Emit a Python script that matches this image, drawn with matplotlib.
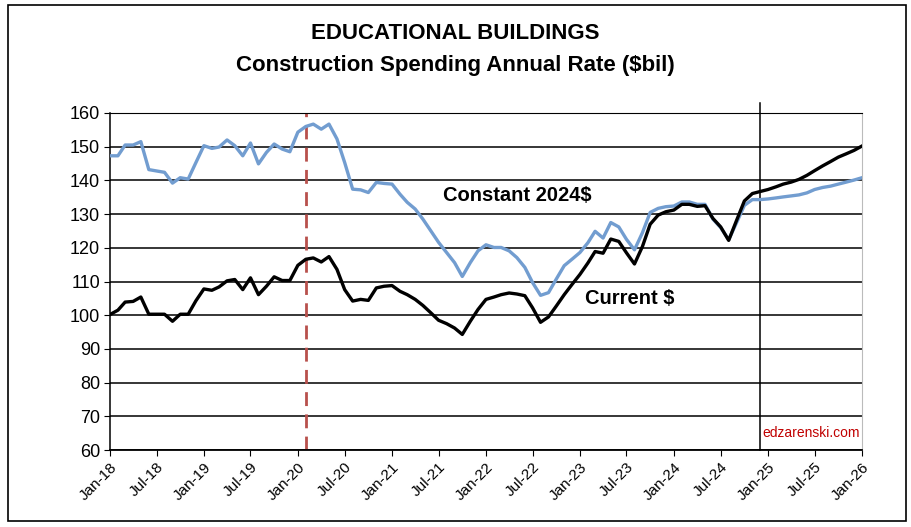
import matplotlib
matplotlib.use("Agg")
import matplotlib.pyplot as plt
import matplotlib.dates as mdates
from matplotlib.patches import Rectangle
import pandas as pd

plt.rcParams['font.family'] = ['Liberation Sans', 'DejaVu Sans']

# monthly series, Jan-2018 .. Jan-2026 ($bil, seasonally adjusted annual rate)
months = pd.date_range("2018-01-01", "2026-01-01", freq="MS")

constant_2024 = [
    147.3, 147.3, 150.5, 150.5, 151.5, 143.2, 142.8, 142.4, 139.2, 140.8, 140.4, 145.3,
    150.3, 149.5, 149.9, 152.0, 150.3, 147.3, 151.1, 144.9, 148.3, 150.8, 149.3, 148.5,
    154.3, 156.0, 156.7, 155.2, 156.7, 152.3, 145.3, 137.4, 137.2, 136.4, 139.4, 139.1,
    138.9, 135.9, 133.5, 131.5, 128.5, 125.0, 121.6, 118.6, 115.6, 111.5, 115.6, 119.1,
    120.9, 120.1, 120.1, 119.1, 117.1, 114.2, 109.7, 105.9, 106.7, 110.7, 114.7, 116.6,
    118.6, 121.5, 124.9, 122.9, 127.5, 126.2, 122.5, 119.4, 124.5, 130.5, 131.7, 132.2,
    132.4, 133.6, 133.6, 132.9, 132.9, 128.5, 126.0, 122.4, 127.5, 132.6, 134.3, 134.3,
    134.5, 134.8, 135.1, 135.4, 135.7, 136.3, 137.3, 137.9, 138.3, 138.9, 139.5, 140.1,
    140.8,
]

current = [
    100.2, 101.5, 103.9, 104.1, 105.4, 100.3, 100.3, 100.3, 98.2, 100.3, 100.3, 104.3,
    107.8, 107.4, 108.4, 110.2, 110.6, 107.6, 111.1, 106.1, 108.6, 111.4, 110.3, 110.3,
    114.8, 116.6, 117.0, 115.8, 117.4, 113.6, 107.6, 104.2, 104.7, 104.4, 108.1, 108.6,
    108.8, 107.1, 106.1, 104.7, 102.9, 100.7, 98.5, 97.5, 96.2, 94.3, 98.2, 101.7,
    104.7, 105.4, 106.1, 106.6, 106.3, 105.8, 102.2, 97.9, 99.5, 102.7, 106.1, 109.1,
    112.1, 115.5, 118.9, 118.4, 122.6, 121.9, 118.5, 115.2, 120.4, 127.0, 129.7, 130.7,
    131.2, 132.9, 132.9, 132.3, 132.5, 128.7, 126.2, 122.2, 128.2, 133.9, 136.1, 136.7,
    137.3, 138.1, 138.9, 139.5, 140.3, 141.5, 142.9, 144.3, 145.6, 146.9, 147.9, 148.9,
    150.2,
]

covid_start = pd.Timestamp("2020-02-01")
forecast_start = pd.Timestamp("2024-12-01")

fig = plt.figure(figsize=(9.11, 5.27), dpi=100)
ax = fig.add_axes([0.1207, 0.146, 0.8255, 0.6396])

ax.plot(months, constant_2024, color="#729dd0", lw=2.4, zorder=3)
ax.plot(months, current, color="black", lw=2.4, zorder=4)

ax.axvline(covid_start, color="#b8504c", lw=2, ls=(0, (5, 3)), zorder=2)
ax.plot([forecast_start, forecast_start], [60, 163], color="black", lw=1.1,
        clip_on=False, zorder=2)

ax.set_ylim(60, 160)
ax.set_yticks(range(60, 161, 10))
ax.set_xlim(months[0], months[-1])
ax.xaxis.set_major_locator(mdates.MonthLocator(bymonth=[1, 7]))
ax.xaxis.set_major_formatter(mdates.DateFormatter("%b-%y"))
ax.grid(axis="y", color="black", lw=1.1)
ax.set_axisbelow(True)

for lbl in ax.get_xticklabels():
    lbl.set_rotation(45)
    lbl.set_ha("right")
    lbl.set_rotation_mode("anchor")
ax.tick_params(axis="x", labelsize=11, length=4, direction="out", pad=3)
ax.tick_params(axis="y", labelsize=13, length=4, direction="out", pad=3)

ax.spines["left"].set_color("black")
ax.spines["bottom"].set_color("black")
ax.spines["top"].set_color("black")
ax.spines["right"].set_color("#bbbbbb")
ax.spines["left"].set_linewidth(1.1)
ax.spines["bottom"].set_linewidth(1.3)

ax.text(pd.Timestamp("2022-05-01"), 135.5, "Constant 2024$", fontsize=14.5,
        fontweight="bold", ha="center", va="center", zorder=5)
ax.text(pd.Timestamp("2023-07-15"), 105.0, "Current $", fontsize=14.5,
        fontweight="bold", ha="center", va="center", zorder=5)
ax.text(0.997, 0.03, "edzarenski.com", transform=ax.transAxes, fontsize=10,
        color="#c00000", ha="right", va="bottom")

fig.text(0.5, 1 - 34 / 527, "EDUCATIONAL BUILDINGS", fontsize=16,
         fontweight="bold", ha="center", va="center")
fig.text(0.5, 1 - 65 / 527, "Construction Spending Annual Rate ($bil)", fontsize=16,
         fontweight="bold", ha="center", va="center")

fig.patches.append(Rectangle((0.009, 0.012), 0.986, 0.978, transform=fig.transFigure,
                             fill=False, edgecolor="black", lw=1.2))

fig.savefig("out.png", dpi=100)
